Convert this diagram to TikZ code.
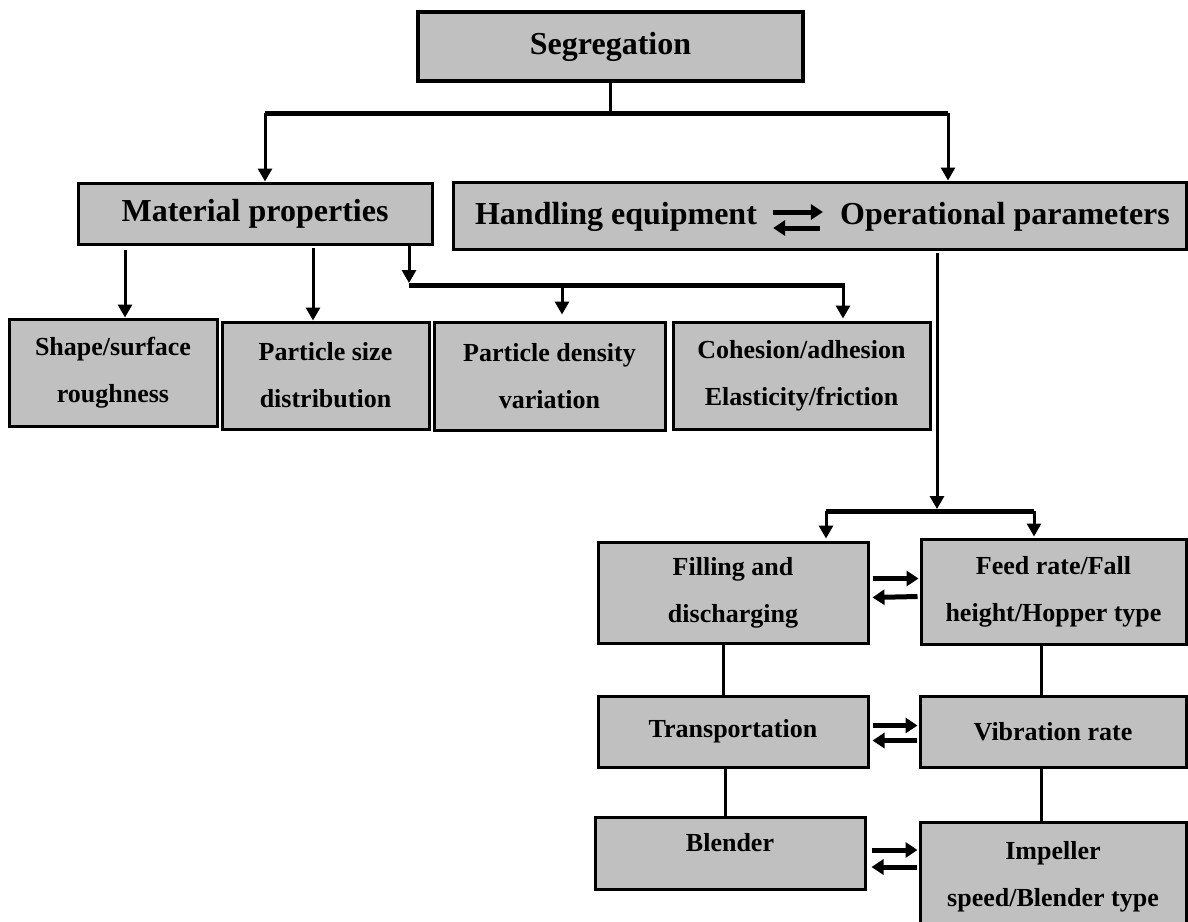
\documentclass[tikz,border=0pt]{standalone}
\usepackage{fontspec}
\setmainfont{Liberation Serif}
\usetikzlibrary{arrows.meta,calc}
\definecolor{boxgray}{RGB}{192,192,192}
\begin{document}
\begin{tikzpicture}[x=1pt,y=-1pt,
  bx/.style={draw=black,fill=boxgray,line width=3pt,inner sep=0pt,align=center,font=\bfseries\fontsize{26}{47}\selectfont},
  big/.style={font=\bfseries\fontsize{32}{38}\selectfont},
  txt/.style={inner sep=0pt,font=\bfseries\fontsize{32}{38}\selectfont},
  stxt/.style={inner sep=0pt,font=\bfseries\fontsize{26}{47}\selectfont},
  conn/.style={line width=3pt,-{Triangle[length=13pt,width=14pt]}},
  plain/.style={line width=3pt},
  barline/.style={line width=5pt},
  dbl/.style={line width=5pt,-{Triangle[length=12pt,width=15pt]}}
]
\useasboundingbox (0,0) rectangle (1188,921);
\clip (0,0) rectangle (1188,921);

% top level
\node[bx,big,line width=4pt,minimum width=385pt,minimum height=69pt] (seg) at (610.5,46.5) {Segregation};
\node[bx,big,minimum width=354pt,minimum height=61pt] (mat) at (255,213.5) {Material properties};
\node[bx,minimum width=733pt,minimum height=67pt] (hand) at (819.5,215.5) {};
\node[txt,anchor=base] (hname) at (616,224) {Handling equipment};
\node[txt,anchor=base] (oper) at (1005,224) {Operational parameters};
\draw[dbl] ($(hname.base east)+(16,-12)$) -- ($(oper.base west)+(-17,-12)$);
\draw[dbl] ($(oper.base west)+(-20,4)$) -- ($(hname.base east)+(16,4)$);

% second row
\node[bx,minimum width=208pt,minimum height=107pt] (shape) at (113,372.5) {Shape/surface\\roughness};
\node[bx,minimum width=207pt,minimum height=107pt] (psize) at (325.5,375.5) {Particle size\\distribution};
\node[bx,minimum width=231pt,minimum height=108pt] (pdens) at (549.5,376) {Particle density\\variation};
\node[bx,minimum width=257pt,minimum height=107pt] (cohes) at (801.5,375.5) {Cohesion/adhesion\\Elasticity/friction};

% lower part
\node[bx,minimum width=270pt,minimum height=101pt] (fill) at (733,592.5) {Filling and\\discharging};
\node[bx,minimum width=265pt,minimum height=105pt] (feed) at (1053.5,591.5) {Feed rate/Fall\\height/Hopper type};
\node[bx,minimum width=270pt,minimum height=71pt] (trans) at (733,731.5) {Transportation};
\node[bx,minimum width=266pt,minimum height=71pt] (vib) at (1053,731.5) {Vibration rate};
\node[bx,minimum width=270pt,minimum height=72pt] (blend) at (730,853) {};
\node[stxt] (blendt) at (730,843) {Blender};
\node[bx,minimum width=266pt,minimum height=110pt] (imp) at (1053,877) {Impeller\\speed/Blender type};

% connectors top
\coordinate (tbL) at (265,113);
\coordinate (tbR) at (948,113);
\draw[plain] (seg.south) -- (seg.south |- tbL);
\draw[barline] (tbL) -- (tbR);
\draw[conn] (tbL) -- (tbL |- mat.north);
\draw[conn] (tbR) -- (tbR |- hand.north);

% material to properties
\coordinate (a1) at (125,250);
\coordinate (a2) at (313,248);
\coordinate (mbL) at (409,285);
\coordinate (mbR) at (845,285);
\coordinate (a3) at (562,285);
\coordinate (a4) at (843,285);
\draw[conn] (a1) -- (a1 |- shape.north);
\draw[conn] (a2) -- (a2 |- psize.north);
\draw[conn,shorten >=2pt] (mbL |- mat.south) -- (mbL);
\draw[barline] (mbL) -- (mbR);
\draw[conn,shorten >=6pt] (a3) -- (a3 |- pdens.north);
\draw[conn,shorten >=2pt] (a4) -- (a4 |- cohes.north);

% operational to lower part
\coordinate (v0) at (937,253);
\coordinate (lbL) at (826,511);
\coordinate (lbR) at (1034,511);
\draw[conn,shorten >=2pt] (v0) -- (v0 |- lbL);
\draw[barline] (lbL) -- (lbR);
\draw[conn,shorten >=2pt] (lbL) -- (lbL |- fill.north);
\draw[conn,shorten >=1pt] (lbR) -- (lbR |- feed.north);

% vertical plain links
\coordinate (c1) at (723,0);
\coordinate (c2) at (725,0);
\coordinate (c3) at (1041,0);
\draw[plain] (c1 |- fill.south) -- (c1 |- trans.north);
\draw[plain] (c2 |- trans.south) -- (c2 |- blend.north);
\draw[plain] (c3 |- feed.south) -- (c3 |- vib.north);
\draw[plain] (c3 |- vib.south) -- (c3 |- imp.north);

% double arrows between columns
\draw[dbl] ($(fill.east)+(3,-14)$) -- ($(feed.west)+(-1,-13)$);
\draw[dbl] ($(feed.west)+(-2,5)$) -- ($(fill.east)+(3,5)$);
\draw[dbl] ($(trans.east)+(3,-6)$) -- ($(vib.west)+(-1,-6)$);
\draw[dbl] ($(vib.west)+(-2,9)$) -- ($(trans.east)+(3,9)$);
\draw[dbl] ($(blend.east)+(5,-3)$) -- ($(imp.west)+(-1,-27)$);
\draw[dbl] ($(imp.west)+(-2,-10)$) -- ($(blend.east)+(5,14)$);
\end{tikzpicture}
\end{document}
